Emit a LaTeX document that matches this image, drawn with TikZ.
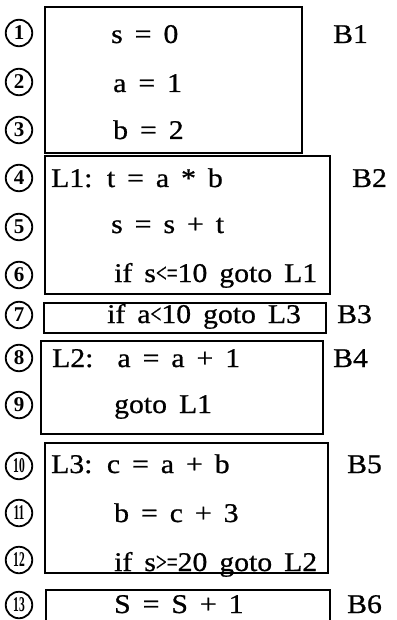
\documentclass[tikz,border=0pt]{standalone}
\usepackage{fontspec}
\setmainfont{Liberation Serif}
\newfontfamily\codefont[FakeStretch=1.1, FakeBold=0.8]{Liberation Serif}
\usepackage{graphicx}
\newcommand\mylt{\scalebox{0.65}[1]{<=}}
\newcommand\myltb{\scalebox{0.65}[1]{<}}
\newcommand\mygt{\scalebox{0.65}[1]{>=}}
\newcommand\nn[1]{\scalebox{0.55}[1]{#1}}
\newcommand\widesp{\spaceskip=12pt\relax}
\tikzset{
  code/.style={anchor=base west, inner sep=0pt, font=\codefont\fontsize{27}{27}\selectfont, execute at begin node=\widesp},
  lab/.style={anchor=base west, inner sep=0pt, font=\codefont\fontsize{27}{27}\selectfont},
  num/.style={circle, draw, line width=1.8pt, minimum size=26.5pt, inner sep=0pt, font=\bfseries\fontsize{21}{21}\selectfont},
  blk/.style={draw, line width=2.8pt}
}
\begin{document}
\begin{tikzpicture}[x=1pt, y=-1pt]
\useasboundingbox (0,0) rectangle (396,620);
% circled line numbers
\node[num] (n1) at (19,33) {1};
\node[num] (n2) at (19,82) {2};
\node[num] (n3) at (19,130) {3};
\node[num] (n4) at (19,178) {4};
\node[num] (n5) at (19,227) {5};
\node[num] (n6) at (19,275) {6};
\node[num] (n7) at (19,315) {7};
\node[num] (n8) at (19,358) {8};
\node[num] (n9) at (19,405) {9};
\node[num] (n10) at (19,466) {\nn{10}};
\node[num] (n11) at (19,513) {\nn{11}};
\node[num] (n12) at (19,560) {\nn{12}};
\node[num] (n13) at (19,605) {\nn{13}};
% code text
\node[code] (t1) at (111,43) {s = 0};
\node[code] (t2) at (113,92) {a = 1};
\node[code] (t3) at (113,139) {b = 2};
\node[code] (t4) at (51,187) {L1: t = a * b};
\node[code] (t5) at (111,233) {s = s + t};
\node[code] (t6) at (114,282) {if s\mylt10 goto L1};
\node[code] (t7) at (107,323) {if a\myltb10 goto L3};
\node[code] (t8) at (52,367) {L2:\hspace{24pt}a = a + 1};
\node[code] (t9) at (114,413) {goto L1};
\node[code] (t10) at (51,473) {L3: c = a + b};
\node[code] (t11) at (114,522) {b = c + 3};
\node[code] (t12) at (114,571) {if s\mygt20 goto L2};
\node[code] (t13) at (114,613) {S = S + 1};
% block labels
\node[lab] (b1) at (333,43) {B1};
\node[lab] (b2) at (352,187) {B2};
\node[lab] (b3) at (337,323) {B3};
\node[lab] (b4) at (333,367) {B4};
\node[lab] (b5) at (347,473) {B5};
\node[lab] (b6) at (347,613) {B6};
% blocks
\draw[blk] (45,7) rectangle (302,153);
\draw[blk] (45,156) rectangle (330,294);
\draw[blk] (44,303) rectangle (326,333);
\draw[blk] (41,341) rectangle (323,434);
\draw[blk] (45,443) rectangle (328,573);
\draw[blk] (46,620) -- (46,590) -- (330,590) -- (330,620);
\end{tikzpicture}
\end{document}
